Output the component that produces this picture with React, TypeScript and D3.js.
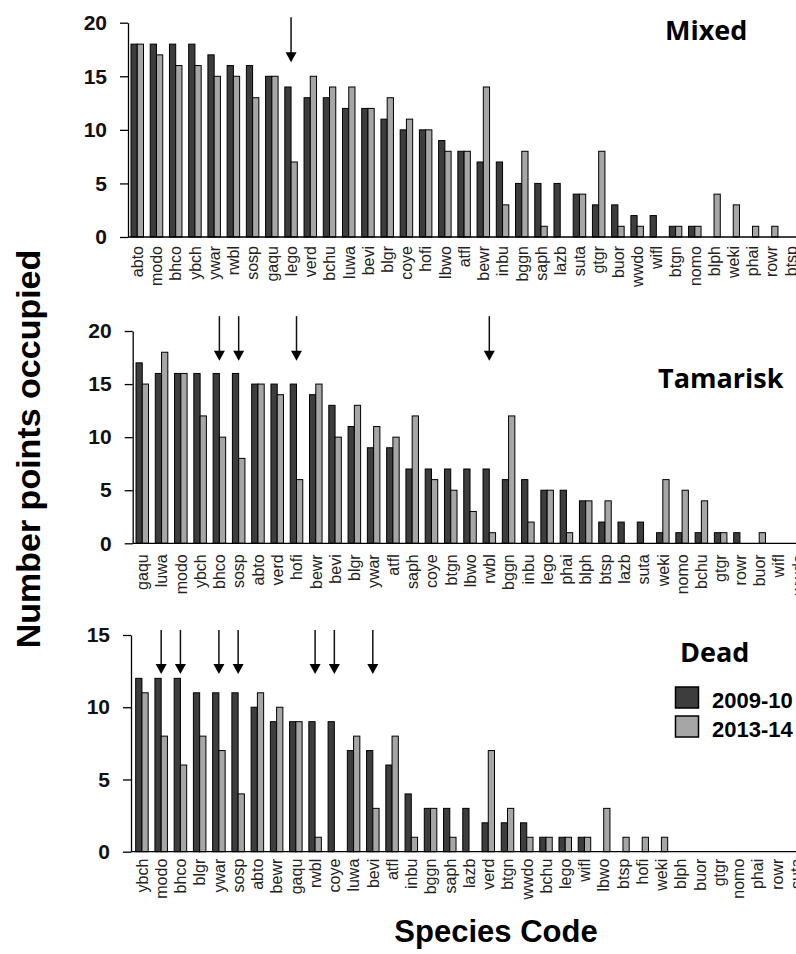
import { useEffect, useRef } from 'react';
import * as d3 from 'd3';

// species order per habitat panel
const mixedCats = ['abto', 'modo', 'bhco', 'ybch', 'ywar', 'rwbl', 'sosp', 'gaqu', 'lego', 'verd', 'bchu', 'luwa', 'bevi', 'blgr', 'coye', 'hofi', 'lbwo', 'atfl', 'bewr', 'inbu', 'bggn', 'saph', 'lazb', 'suta', 'gtgr', 'buor', 'wwdo', 'wifl', 'btgn', 'nomo', 'blph', 'weki', 'phai', 'rowr', 'btsp'];
const mixed0910 = [18, 18, 18, 18, 17, 16, 16, 15, 14, 13, 13, 12, 12, 11, 10, 10, 9, 8, 7, 7, 5, 5, 5, 4, 3, 3, 2, 2, 1, 1, 0, 0, 0, 0, 0];
const mixed1314 = [18, 17, 16, 16, 15, 15, 13, 15, 7, 15, 14, 14, 12, 13, 11, 10, 8, 8, 14, 3, 8, 1, 0, 4, 8, 1, 1, 0, 1, 1, 4, 3, 1, 1, 0];
const mixedArrows = ['lego'];

const tamCats = ['gaqu', 'luwa', 'modo', 'ybch', 'bhco', 'sosp', 'abto', 'verd', 'hofi', 'bewr', 'bevi', 'blgr', 'ywar', 'atfl', 'saph', 'coye', 'btgn', 'lbwo', 'rwbl', 'bggn', 'inbu', 'lego', 'phai', 'blph', 'btsp', 'lazb', 'suta', 'weki', 'nomo', 'bchu', 'gtgr', 'rowr', 'buor', 'wifl', 'wwdo'];
const tam0910 = [17, 16, 16, 16, 16, 16, 15, 15, 15, 14, 13, 11, 9, 9, 7, 7, 7, 7, 7, 6, 6, 5, 5, 4, 2, 2, 2, 1, 1, 1, 1, 1, 0, 0, 0];
const tam1314 = [15, 18, 16, 12, 10, 8, 15, 14, 6, 15, 10, 13, 11, 10, 12, 6, 5, 3, 1, 12, 2, 5, 1, 4, 4, 0, 0, 6, 5, 4, 1, 0, 1, 0, 0];
const tamArrows = ['bhco', 'sosp', 'hofi', 'rwbl'];

const deadCats = ['ybch', 'modo', 'bhco', 'blgr', 'ywar', 'sosp', 'abto', 'bewr', 'gaqu', 'rwbl', 'coye', 'luwa', 'bevi', 'atfl', 'inbu', 'bggn', 'saph', 'lazb', 'verd', 'btgn', 'wwdo', 'bchu', 'lego', 'wifl', 'lbwo', 'btsp', 'hofi', 'weki', 'blph', 'buor', 'gtgr', 'nomo', 'phai', 'rowr', 'suta'];
const dead0910 = [12, 12, 12, 11, 11, 11, 10, 9, 9, 9, 9, 7, 7, 6, 4, 3, 3, 3, 2, 2, 2, 1, 1, 1, 0, 0, 0, 0, 0, 0, 0, 0, 0, 0, 0];
const dead1314 = [11, 8, 6, 8, 7, 4, 11, 10, 9, 1, 0, 8, 3, 8, 1, 3, 1, 0, 7, 3, 1, 1, 1, 1, 3, 1, 1, 1, 0, 0, 0, 0, 0, 0, 0];
const deadArrows = ['modo', 'bhco', 'ywar', 'sosp', 'rwbl', 'coye', 'bevi'];

const seriesNames = ['2009-10', '2013-14'];

const W = 796;
const H = 954;
const DARK = '#3d3d3d';
const LIGHT = '#a6a6a6';
const ARIAL = '"Liberation Sans", Arial, sans-serif';

const panels = [
  { title: 'Mixed', cats: mixedCats, a: mixed0910, b: mixed1314, arrows: mixedArrows, yMax: 20, ticks: [0, 5, 10, 15, 20],
    left: 128, top: 22.7, bottom: 237, step: 19.2, offset: 3, labelGap: 9, arrowFrom: 20.5, arrowTo: 16.3, tx: 665, ty: 40 },
  { title: 'Tamarisk', cats: tamCats, a: tam0910, b: tam1314, arrows: tamArrows, yMax: 20, ticks: [0, 5, 10, 15, 20],
    left: 132.7, top: 331, bottom: 543.3, step: 19.27, offset: 3.3, labelGap: 11, arrowFrom: 21.4, arrowTo: 17.2, tx: 658, ty: 388 },
  { title: 'Dead', cats: deadCats, a: dead0910, b: dead1314, arrows: deadArrows, yMax: 15, ticks: [0, 5, 10, 15],
    left: 131, top: 635, bottom: 851.7, step: 19.31, offset: 4.7, labelGap: 7, arrowFrom: 15.35, arrowTo: 12.3, tx: 680, ty: 662 },
];

const App = () => {
  const svgRef = useRef<SVGSVGElement | null>(null);

  useEffect(() => {
    if (!svgRef.current) return;
    const svg = d3.select(svgRef.current);
    svg.selectAll('*').remove();

    panels.forEach((p) => {
      const n = p.cats.length;
      const x = d3.scaleBand<string>()
        .domain(p.cats)
        .range([p.left, p.left + p.step * (n + 0.01)])
        .paddingInner(0.35)
        .paddingOuter(p.offset / p.step);
      const sub = d3.scaleBand<string>().domain(['a', 'b']).range([0, x.bandwidth()]);
      const y = d3.scaleLinear().domain([0, p.yMax]).range([p.bottom, p.top]);

      const g = svg.append('g');

      // bars
      const rows = p.cats.map((c, i) => ({ c, a: p.a[i], b: p.b[i] }));
      (['a', 'b'] as const).forEach((k) => {
        g.selectAll(`rect.bar-${k}`)
          .data(rows.filter(d => d[k] > 0))
          .enter()
          .append('rect')
          .attr('class', `bar-${k}`)
          .attr('x', d => (x(d.c) as number) + (sub(k) as number))
          .attr('y', d => y(d[k]))
          .attr('width', sub.bandwidth())
          .attr('height', d => y(0) - y(d[k]))
          .attr('fill', k === 'a' ? DARK : LIGHT)
          .attr('stroke', '#000')
          .attr('stroke-width', 1);
      });

      // y axis
      const yAxis = g.append('g')
        .attr('transform', `translate(${p.left},0)`)
        .call(d3.axisLeft(y).tickValues(p.ticks).tickSize(8).tickSizeOuter(0).tickPadding(13).tickFormat(d3.format('d')));
      yAxis.select('.domain').attr('stroke', '#000').attr('stroke-width', 1.3);
      yAxis.selectAll('.tick line').attr('stroke', '#000').attr('stroke-width', 1.3);
      yAxis.selectAll('.tick text')
        .attr('font-family', ARIAL)
        .attr('font-size', 21)
        .attr('font-weight', 'bold')
        .attr('fill', '#111');

      // x axis line
      g.append('line')
        .attr('x1', p.left)
        .attr('x2', W)
        .attr('y1', y(0))
        .attr('y2', y(0))
        .attr('stroke', '#000')
        .attr('stroke-width', 1.3);

      // species labels
      g.selectAll('text.cat')
        .data(p.cats)
        .enter()
        .append('text')
        .attr('class', 'cat')
        .attr('transform', d => `translate(${(x(d) as number) + x.bandwidth() / 2},${y(0) + p.labelGap}) rotate(-90)`)
        .attr('text-anchor', 'end')
        .attr('dy', '0.36em')
        .attr('font-family', ARIAL)
        .attr('font-size', 16)
        .attr('fill', '#222')
        .text(d => d);

      // arrows
      p.arrows.forEach((c) => {
        const cx = (x(c) as number) + x.bandwidth() / 2;
        const y1 = y(p.arrowFrom);
        const y2 = y(p.arrowTo);
        g.append('line')
          .attr('x1', cx).attr('x2', cx)
          .attr('y1', y1).attr('y2', y2 - 8)
          .attr('stroke', '#111')
          .attr('stroke-width', 1.5);
        g.append('path')
          .attr('d', `M${cx - 5.5},${y2 - 10}L${cx + 5.5},${y2 - 10}L${cx},${y2}Z`)
          .attr('fill', '#000');
      });

      // panel title
      g.append('text')
        .attr('x', p.tx)
        .attr('y', p.ty)
        .attr('font-family', '"Open Sans", "Noto Sans", sans-serif')
        .attr('font-weight', 'bold')
        .attr('font-size', 27)
        .attr('fill', '#000')
        .text(p.title);
    });

    // legend
    const leg = svg.append('g');
    seriesNames.forEach((s, i) => {
      leg.append('rect')
        .attr('x', 675.5)
        .attr('y', 687 + i * 29)
        .attr('width', 23)
        .attr('height', 21)
        .attr('fill', i === 0 ? DARK : LIGHT)
        .attr('stroke', '#000')
        .attr('stroke-width', 1.5);
      leg.append('text')
        .attr('x', 712)
        .attr('y', 708 + i * 29)
        .attr('font-family', ARIAL)
        .attr('font-weight', 'bold')
        .attr('font-size', 22)
        .attr('fill', '#000')
        .text(s);
    });

    // axis titles
    svg.append('text')
      .attr('transform', 'translate(40,449) rotate(-90)')
      .attr('text-anchor', 'middle')
      .attr('font-family', ARIAL)
      .attr('font-weight', 'bold')
      .attr('font-size', 34)
      .attr('fill', '#000')
      .text('Number points occupied');

    svg.append('text')
      .attr('x', 496)
      .attr('y', 942)
      .attr('text-anchor', 'middle')
      .attr('font-family', ARIAL)
      .attr('font-weight', 'bold')
      .attr('font-size', 31)
      .attr('fill', '#000')
      .text('Species Code');
  }, []);

  return (
    <svg ref={svgRef} width={W} height={H}
      style={{ position: 'absolute', left: 0, top: 0, background: '#fff', display: 'block' }} />
  );
};

export default App;
